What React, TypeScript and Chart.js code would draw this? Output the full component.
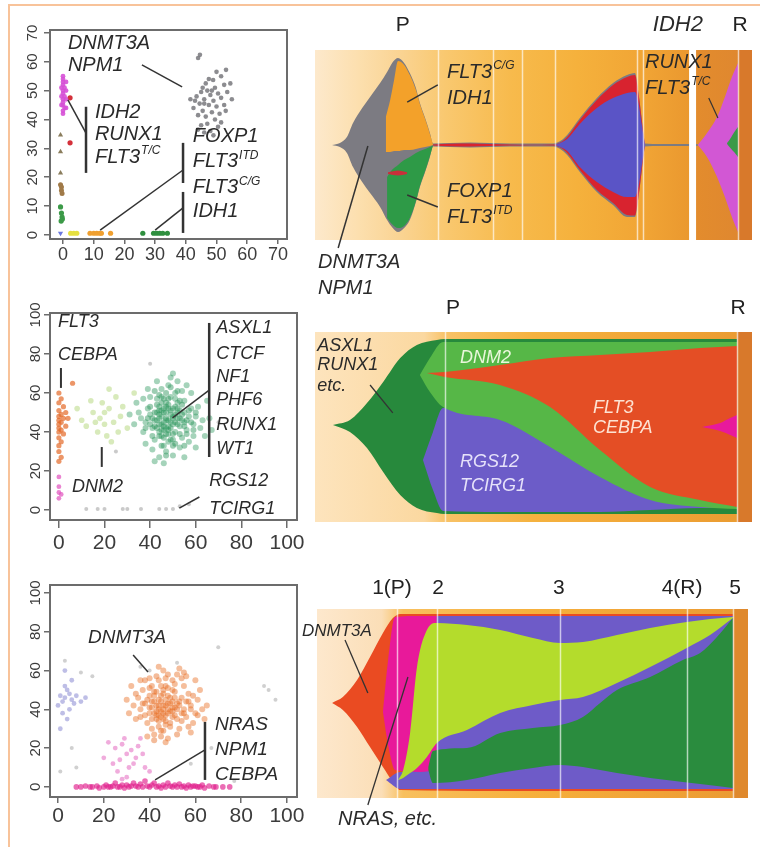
import React, { useEffect, useRef } from "react";
import { Chart, registerables } from "chart.js";
Chart.register(...registerables);

const FONT = "'Liberation Sans', Arial, Helvetica, sans-serif";

// ---------- scatter tick values ----------
const TICKS_70 = [0, 10, 20, 30, 40, 50, 60, 70];
const TICKS_100 = [0, 20, 40, 60, 80, 100];

// ---------- row 1 scatter ----------
const S1_GRAY = [[44.6,62.4],[44.0,61.3],[53.1,57.2],[48.9,53.7],[51.5,55.0],[46.5,52.5],[49.5,51.0],[52.5,52.0],[47.0,50.0],[45.0,49.5],[43.5,48.0],[50.5,49.0],[48.0,48.5],[53.5,49.5],[46.0,47.0],[49.0,46.5],[51.5,47.5],[44.5,45.5],[47.5,45.0],[50.0,44.5],[52.5,45.0],[42.5,44.0],[45.5,43.0],[48.5,42.5],[51.0,42.0],[46.5,41.0],[44.0,41.5],[49.5,40.0],[47.0,38.5],[45.0,38.0],[50.5,37.5],[48.0,36.0],[46.0,35.5],[43.0,46.5],[54.5,52.5],[55.0,47.0],[41.5,47.0],[53.0,43.0],[47.5,54.0],[50.0,56.5],[45.5,51.0],[48.5,50.0],[44.0,36.5],[51.5,39.0],[49.0,34.5],[46.0,45.5]];
const S1_MAGENTA = [[0,55],[0,54],[0,53],[0,52],[0.5,51],[0,50],[0,49],[0.5,48],[0,47],[0,46],[0,45],[0.5,44],[0,43],[0,42],[1,53],[1,50],[1,47],[-0.5,51],[-0.5,48],[1,44],[-0.5,45]];
const S1_RED = [[2.3,47.5],[2.3,31.9]];
const S1_OLIVE = [[-0.8,34.6],[-0.8,28.8],[-0.8,21.5]];
const S1_BROWN = [[-0.5,16.6],[-0.5,15.4],[-0.3,14.4],[-0.8,17.4]];
const S1_GREEN = [[-0.8,9.7],[-0.5,7.6],[-0.3,6.2],[-0.6,4.8],[-0.2,5.5]];
const S1_BLUE = [[-0.8,0.6]];
const S1_YELLOW = [[2.5,0.6],[3.5,0.6],[4.5,0.6]];
const S1_ORANGE = [[8.8,0.6],[10,0.6],[11,0.6],[12,0.6],[12.5,0.6],[15.5,0.6]];
const S1_DKGREEN = [[26,0.6],[29.5,0.6],[30.5,0.6],[31.5,0.6],[32.5,0.6],[34,0.6]];

// ---------- row 2 scatter ----------
const S2_GREEN = [[47,46],[45,48],[50,44],[43,50],[52,47],[48,52],[46,41],[51,40],[44,44],[49,49],[53,51],[42,46],[55,45],[47,55],[50,36],[45,38],[57,48],[40,49],[48,43],[52,55],[44,53],[56,41],[41,42],[49,58],[54,37],[46,33],[59,44],[38,45],[51,60],[43,57],[58,52],[47,30],[53,32],[39,52],[55,56],[45,62],[60,48],[36,47],[50,28],[42,36],[57,35],[48,64],[62,42],[40,58],[54,61],[44,27],[61,53],[37,40],[52,66],[46,24],[63,46],[35,50],[58,60],[41,31],[55,27],[49,68],[64,38],[39,62],[47,50],[50,47],[46,45],[48,39],[51,53],[45,51],[53,43],[44,47],[49,45],[47,42],[52,50],[46,52],[33,44],[66,47],[56,64],[38,34],[60,32],[43,66],[34,55],[65,56],[50,70],[42,25],[31,49],[67,41],[59,38],[37,57],[55,50],[48,35],[44,40],[51,57],[45,58],[54,46]];
const S2_GREEN_CORE = [[45,44],[47,47],[49,42],[43,46],[51,45],[46,50],[48,46],[50,48],[44,49],[52,44],[47,39],[45,41],[49,51],[53,47],[42,43],[48,54],[46,37],[50,39],[54,49],[44,51],[41,47],[51,49],[47,53],[43,42],[55,43],[49,36],[45,55],[52,52],[40,44],[48,41],[46,43],[50,52],[53,39],[44,38],[56,46],[42,50],[48,57],[51,34],[47,60],[39,47],[57,51],[45,33],[54,54],[43,54],[50,33],[58,45],[41,38],[46,57],[52,61],[38,42],[56,39],[49,63],[44,59],[53,56],[40,53],[60,50],[47,28],[55,33],[42,61],[59,41]];
const S2_LIGHT = [[18,47],[20,44],[15,50],[22,52],[17,40],[24,45],[12,43],[19,55],[27,48],[21,38],[14,56],[25,58],[30,42],[10,46],[23,35],[28,53],[16,45],[20,50],[33,60],[26,40],[8,52],[22,62]];
const S2_ORANGE = [[0,60],[1,57],[0,55],[2,53],[0,51],[1,49],[0,48],[2,47],[0,46],[1,45],[0,44],[3,43],[0,42],[1,41],[0,40],[2,39],[0,37],[1,35],[0,33],[0,30],[1,27],[0,25],[3,50],[6,65],[4,47]];
const S2_PINK = [[0,17],[0,12],[0,9],[1,8],[0,6]];
const S2_GRAY = [[12,0.5],[17,0.5],[20,0.5],[28,0.5],[30,0.5],[36,0.5],[44,0.5],[47,0.5],[50,0.5],[53,2],[57,3],[40,75],[70,45],[25,30]];

// ---------- row 3 scatter ----------
const S3_ORANGE = [[46,40],[44,42],[48,38],[42,44],[50,41],[45,36],[47,45],[43,39],[49,43],[51,37],[41,41],[53,42],[46,48],[44,34],[48,47],[52,35],[40,38],[55,40],[47,32],[43,49],[50,50],[38,43],[54,46],[45,29],[49,31],[41,52],[56,36],[36,40],[51,53],[44,55],[58,42],[39,33],[53,30],[47,56],[35,46],[57,48],[42,27],[52,58],[60,38],[37,50],[48,25],[55,52],[33,42],[46,60],[61,45],[40,56],[59,33],[44,45],[47,42],[45,39],[50,44],[43,37],[49,39],[46,35],[42,47],[51,46],[48,51],[54,38],[40,47],[52,43],[38,37],[57,44],[31,38],[63,40],[45,52],[34,35],[62,50],[41,30],[56,57],[30,45],[65,42],[36,55],[58,28],[44,62],[64,35],[39,26],[53,61],[32,52],[60,55],[47,23]];
const S3_ORANGE_CORE = [[44,40],[46,42],[48,40],[42,38],[50,39],[45,44],[47,37],[43,42],[49,46],[51,41],[41,44],[46,38],[48,43],[44,37],[52,40],[45,47],[47,34],[43,35],[50,36],[53,44],[40,41],[46,50],[49,33],[42,49],[55,38],[44,31],[51,49],[39,45],[54,34],[47,52],[41,35],[56,44],[45,26],[50,55],[37,43],[58,40],[43,57],[52,27],[36,36],[48,58],[59,47],[40,51],[54,56],[46,29],[34,48],[61,37],[38,55],[57,31],[42,24],[55,59]];
const S3_PURPLE = [[3,46],[5,48],[2,44],[6,45],[4,50],[1,47],[7,43],[3,52],[5,40],[2,38],[8,47],[0,42],[4,35],[10,44],[6,55],[1,30],[3,60],[12,46]];
const S3_PINK = [[25,20],[28,22],[30,17],[32,19],[27,14],[34,15],[29,25],[24,12],[31,10],[35,21],[26,8],[33,12],[37,17],[22,23],[30,5],[38,10],[40,8],[20,15],[36,25],[28,4]];
const S3_PINKLINE = [[8,0],[10,0],[12,0.5],[14,0],[15,0],[17,0.5],[18,-0.5],[20,0],[21,1],[22,0],[23,0],[24,0.5],[25,2],[26,0],[27,0],[28,1],[29,-0.5],[30,1],[31,0],[32,0.5],[33,2],[34,0.5],[35,0],[36,1.5],[37,0],[38,3],[39,0.5],[40,0],[41,1],[42,2],[43,0],[44,0.5],[45,-0.5],[46,1],[47,0],[48,2],[49,0.5],[50,0],[51,1],[52,0],[53,1.5],[54,0],[55,0.5],[56,-0.5],[57,1],[58,0],[59,0.5],[60,0.5],[61,0],[62,0],[63,1],[64,-0.5],[66,0.5],[68,0],[69,0],[72,0],[75,0]];
const S3_GRAY = [[3,65],[10,59],[8,10],[15,57],[40,60],[36,62],[52,64],[70,72],[77,3],[92,50],[95,45],[90,52],[6,20],[1,8],[58,12],[67,20]];

// ---------- fish plot 1 ----------
const F1_GRAY_X = [3.9,5.7,7.3,8.7,10.8,12.6,14.9,16.5,17.8,19.0,20.4,21.7,23.1,24.0,25.2,26.3,27.0,30.9,35.5,40.0,44.6,49.2,54.5,56.1,57.7,60.6,64.5,68.2,71.4,73.2,74.1,74.8,75.5,78.9,85.6,87.6];
const F1_GRAY_TOP = [50,51.1,54.2,61.6,69.5,75.3,82.6,88.4,93.7,95.8,93.2,87.9,80,72.1,64.2,56.3,50.8,51.1,51.3,51.1,50.8,50.8,50.8,52.1,55.3,64.2,74.7,82.6,86.8,87.9,76.3,63.2,50.8,50.5,50.5,50.5];
const F1_GRAY_BOT = [50,48.9,45.8,38.4,30.5,24.7,17.4,10.5,6.3,4.2,6.3,10.5,20,27.9,35.8,43.7,49.2,48.9,48.7,48.9,49.2,49.2,49.2,47.9,44.7,35.8,25.3,18.4,12.1,12.1,23.7,36.8,49.2,49.5,49.5,49.5];
const F1_ORANGE_X = [16.2,17.2,18.1,19.0,20.4,21.7,23.1,24.0,25.2,26.3,27.0];
const F1_ORANGE_TOP = [64.7,73.7,84.2,94.2,92.1,86.8,78.9,71.6,63.7,55.8,50.3];
const F1_ORANGE_BOT = [46.3,46.3,46.8,46.8,47.4,47.4,47.9,48.4,48.9,49.5,50.0];
const F1_GREEN_X = [16.5,17.6,19.0,20.4,21.7,23.1,24.0,25.2,26.3,27.0];
const F1_GREEN_TOP = [33.2,36.8,39.5,42.1,43.7,45.8,46.8,47.9,48.9,49.7];
const F1_GREEN_BOT = [11.6,8.4,6.3,7.4,11.6,20.5,28.4,36.3,44.2,49.7];
const F1_REDA_X = [16.7,19.0,21.1];
const F1_REDA_TOP = [35.6,36.6,35.6];
const F1_REDA_BOT = [34.8,34.0,34.8];
const F1_RED_X = [27.0,30.9,35.5,40.0,44.6,49.2,54.5,56.1,57.7,60.6,64.5,68.2,71.4,73.2,74.1,74.8,75.5];
const F1_RED_TOP = [50.3,50.7,50.8,50.5,50.3,50.1,50.2,51.3,54.2,63.2,73.7,81.6,85.8,86.8,75.8,62.6,50.3];
const F1_RED_BOT = [49.7,49.3,49.2,49.5,49.7,49.9,49.8,48.7,45.8,36.8,26.3,19.5,13.2,12.9,24.2,37.4,49.7];
const F1_BLUE_X = [54.9,57.7,60.6,64.5,68.2,71.4,73.2,74.1,74.8,75.5];
const F1_BLUE_TOP = [50,53.2,61.1,69.5,74.7,77.4,77.9,71.1,60.5,50];
const F1_BLUE_BOT = [50,46.8,38.4,30.5,25.3,22.6,22.6,28.9,39.5,50];
const F1_MAG_X = [87.6,89.7,92.0,93.8,95.4,96.8];
const F1_MAG_TOP = [50,56.3,64.7,75.3,85.8,93.2];
const F1_MAG_BOT = [50,43.7,33.2,22.6,12.1,4.2];
const F1_G2_X = [94.3,95.2,96.0,96.8];
const F1_G2_TOP = [51,54,57,59.5];
const F1_G2_BOT = [50.5,48,46,43.7];
const F1_LABEL_POS = [20.1, 97.3];
const F1_LABELS = ["P", "R"];
const F1_SAMPLE_LINES = [28.1, 40.7, 47.4, 54.9, 73.7, 75.1, 96.8];

// ---------- fish plot 2 ----------
const F2_DG_X = [4.1,8.0,11.9,15.6,19.5,23.3,27.9,29.7,65.2,96.6];
const F2_DG_TOP = [51.1,53.7,62.6,73.7,86.3,93.2,95.8,96.3,96.3,96.3];
const F2_DG_BOT = [51.1,47.4,38.9,26.3,14.2,7.4,4.7,4.2,4.2,4.2];
const F2_PU_X = [24.7,27.0,29.3,42.3,53.8,65.2,76.7,88.1,96.6];
const F2_PU_TOP = [32.6,47.4,60.0,57.9,43.2,27.4,14.2,10.0,8.9];
const F2_PU_BOT = [32.6,16.8,5.8,5.3,5.3,5.3,6.3,7.4,7.4];
const F2_LG_X = [24.0,26.3,29.3,42.3,53.8,65.2,76.7,88.1,96.6];
const F2_LG_TOP = [77.4,86.3,94.7,94.7,94.7,94.7,94.7,94.7,94.7];
const F2_LG_BOT = [77.4,68.4,60.5,53.7,39.5,23.7,11.6,7.9,6.8];
const F2_RED_X = [25.6,29.7,42.3,53.8,65.2,76.7,88.1,96.6];
const F2_RED_TOP = [78.4,78.9,82.6,86.3,87.9,89.5,91.6,92.6];
const F2_RED_BOT = [78.4,76.3,72.1,60.5,37.9,18.4,11.6,7.9];
const F2_MAG_X = [88.6,92.7,95.0,96.6];
const F2_MAG_TOP = [50,52.1,54.7,56.3];
const F2_MAG_BOT = [50,47.9,45.8,44.2];
const F2_LABEL_POS = [31.6, 96.8];
const F2_LABELS = ["P", "R"];
const F2_SAMPLE_LINES = [29.7, 96.6];

// ---------- fish plot 3 ----------
const F3_RED_X = [3.5,6.0,9.3,12.3,15.3,17.6,19.3,42.5,96.5];
const F3_RED_TOP = [50.3,53.4,62.4,74.6,87.3,95.2,97.4,97.4,97.4];
const F3_RED_BOT = [50.3,46.6,37.6,27.0,16.4,8.5,4.2,3.7,3.7];
const F3_PU_X = [16.0,19.3,23.9,27.8,42.5,96.5];
const F3_PU_TOP = [9.5,13.8,15.9,96.3,96.3,96.3];
const F3_PU_BOT = [9.5,4.8,4.8,4.8,4.8,4.8];
const F3_MAG_X = [15.3,16.5,18.1,23.9,27.8];
const F3_MAG_TOP = [45.5,73.0,95.8,96.3,96.3];
const F3_MAG_BOT = [45.5,28.0,14.8,13.8,14.8];
const F3_LIME_X = [18.8,20.0,21.6,23.2,25.5,27.8,34.8,42.5,50.1,56.4,61.7,69.6,77.3,85.8,91.2,96.5];
const F3_LIME_TOP = [9.5,14.8,34.4,69.3,88.9,92.6,91.5,88.9,84.7,82.0,82.5,86.2,89.9,93.1,94.7,95.8];
const F3_LIME_BOT = [9.5,10.6,13.2,15.9,21.7,29.1,36.0,45.0,49.2,51.9,53.4,60.8,69.3,79.4,86.2,95.2];
const F3_GR_X = [25.8,26.9,34.8,42.5,50.1,56.4,61.7,65.7,69.6,77.3,84.9,88.9,92.8,96.5];
const F3_GR_TOP = [16.4,24.9,26.5,34.4,37.0,38.6,42.9,50.3,57.1,64.0,73.0,76.7,85.2,95.2];
const F3_GR_BOT = [14.8,7.9,9.5,13.2,15.9,17.5,16.4,14.8,13.2,10.6,8.5,7.4,6.3,5.3];
const F3_LABEL_POS = [17.4, 28.1, 56.1, 84.7, 97.0];
const F3_LABELS = ["1(P)", "2", "3", "4(R)", "5"];
const F3_SAMPLE_LINES = [18.6, 27.8, 56.4, 85.8, 96.5];

// ---------- annotations ----------
const S1_TEXTS = [
  { t: "DNMT3A", x: 1.6, y: 66.2 }, { t: "NPM1", x: 1.6, y: 58.6 },
  { t: "IDH2", x: 10.4, y: 42.3 }, { t: "RUNX1", x: 10.4, y: 34.7 }, { t: "FLT3", sup: "T/C", x: 10.4, y: 27.0 },
  { t: "FOXP1", x: 42.3, y: 34.0 }, { t: "FLT3", sup: "ITD", x: 42.3, y: 25.3 },
  { t: "FLT3", sup: "C/G", x: 42.3, y: 16.3 }, { t: "IDH1", x: 42.3, y: 8.0 },
];
const S1_SEGS = [
  [25.7, 58.9, 38.8, 51.3, 1.5], [7.5, 44.4, 7.5, 21.5, 2.5], [7.5, 35.3, 1.6, 46.8, 1.5],
  [39.1, 31.9, 39.1, 18.0, 2.5], [39.1, 14.9, 39.1, 0.7, 2.5],
  [39.1, 22.5, 12.1, 1.7, 1.5], [39.1, 9.4, 30.0, 1.7, 1.5],
];
const S2_TEXTS = [
  { t: "FLT3", x: -0.4, y: 96.4 }, { t: "CEBPA", x: -0.4, y: 79.5 }, { t: "DNM2", x: 5.7, y: 11.8 },
  { t: "ASXL1", x: 69.0, y: 93.3 }, { t: "CTCF", x: 69.0, y: 80.0 }, { t: "NF1", x: 69.0, y: 68.2 },
  { t: "PHF6", x: 69.0, y: 56.4 }, { t: "RUNX1", x: 69.0, y: 43.6 }, { t: "WT1", x: 69.0, y: 31.3 },
  { t: "RGS12", x: 65.9, y: 14.9 }, { t: "TCIRG1", x: 65.9, y: 0.5 },
];
const S2_SEGS = [
  [0.9, 72.8, 0.9, 62.6, 2], [18.8, 32.3, 18.8, 22.1, 2], [65.9, 95.9, 65.9, 27.2, 2.5],
  [65.9, 61.5, 49.8, 47.2, 1.5], [61.6, 6.7, 52.8, 1.0, 1.5],
];
const S3_TEXTS = [
  { t: "DNMT3A", x: 13.1, y: 76.8 }, { t: "NRAS", x: 68.6, y: 32.0 },
  { t: "NPM1", x: 68.6, y: 19.1 }, { t: "CEBPA", x: 68.6, y: 6.2 },
];
const S3_SEGS = [[32.8, 68.0, 39.3, 59.3, 1.5], [64.2, 33.5, 64.2, 3.6, 2.5], [64.2, 19.1, 42.4, 3.6, 1.5]];
const F1_TEXTS = [
  { t: "FLT3", sup: "C/G", x: 30.2, y: 88.4 }, { t: "IDH1", x: 30.2, y: 74.7 },
  { t: "FOXP1", x: 30.2, y: 25.3 }, { t: "FLT3", sup: "ITD", x: 30.2, y: 12.1 },
  { t: "DNMT3A", x: 0.7, y: -11.6 }, { t: "NPM1", x: 0.7, y: -25.3 },
  { t: "RUNX1", x: 75.5, y: 93.2 }, { t: "FLT3", sup: "T/C", x: 75.5, y: 80 },
  { t: "IDH2", x: 77.3, y: 113.4, size: 22 },
];
const F1_SEGS = [[28.1, 81.6, 21.1, 72.6, 1.5], [28.1, 17.4, 21.1, 23.7, 1.5], [5.3, -4.2, 12.1, 49.5, 1.5], [90.1, 74.7, 92.2, 64.2, 1.2]];
const F2_TEXTS = [
  { t: "ASXL1", x: 0.5, y: 92.6 }, { t: "RUNX1", x: 0.5, y: 82.6 }, { t: "etc.", x: 0.5, y: 71.6 },
  { t: "DNM2", x: 33.2, y: 86.3, color: "#eaf7dc" },
  { t: "FLT3", x: 63.6, y: 60.0, color: "#fde3d3" }, { t: "CEBPA", x: 63.6, y: 49.5, color: "#fde3d3" },
  { t: "RGS12", x: 33.2, y: 31.6, color: "#e6e2fa" }, { t: "TCIRG1", x: 33.2, y: 18.9, color: "#e6e2fa" },
];
const F2_SEGS = [[12.6, 72.1, 17.8, 57.4, 1.3]];
const F3_TEXTS = [{ t: "DNMT3A", x: -3.5, y: 88.4, size: 17 }, { t: "NRAS, etc.", x: 4.9, y: -11.6, size: 20 }];
const F3_SEGS = [[6.5, 83.6, 11.8, 55.6, 1.3], [11.8, -3.7, 21.1, 64.0, 1.3]];

// ---------- plugins ----------
function annPlugin(texts: any[], segs: any[], size: number) {
  return {
    id: "ann",
    afterDraw(chart: any) {
      const { ctx } = chart;
      const xs = chart.scales.x, ys = chart.scales.y;
      ctx.save();
      ctx.strokeStyle = "#333";
      ctx.lineCap = "butt";
      segs.forEach((s: number[]) => {
        ctx.lineWidth = s[4];
        ctx.beginPath();
        ctx.moveTo(xs.getPixelForValue(s[0]), ys.getPixelForValue(s[1]));
        ctx.lineTo(xs.getPixelForValue(s[2]), ys.getPixelForValue(s[3]));
        ctx.stroke();
      });
      ctx.textAlign = "left";
      ctx.textBaseline = "middle";
      texts.forEach((a: any) => {
        const sz = a.size || size;
        const px = xs.getPixelForValue(a.x), py = ys.getPixelForValue(a.y);
        ctx.fillStyle = a.color || "#2a2a2a";
        ctx.font = `italic ${sz}px ${FONT}`;
        ctx.fillText(a.t, px, py);
        if (a.sup) {
          const w = ctx.measureText(a.t).width;
          ctx.font = `italic ${Math.round(sz * 0.6)}px ${FONT}`;
          ctx.fillText(a.sup, px + w + 1, py - sz * 0.32);
        }
      });
      ctx.restore();
    },
  };
}

function boxPlugin(yTicks: number[], labelX: number, size: number) {
  return {
    id: "rbox",
    afterDraw(chart: any) {
      const { ctx, chartArea: a } = chart;
      const ys = chart.scales.y;
      ctx.save();
      ctx.strokeStyle = "#6c6c6c";
      ctx.lineWidth = 2;
      ctx.strokeRect(a.left, a.top, a.right - a.left, a.bottom - a.top);
      ctx.fillStyle = "#3c3c3c";
      ctx.font = `${size}px ${FONT}`;
      ctx.textAlign = "center";
      ctx.textBaseline = "middle";
      yTicks.forEach((v) => {
        const py = ys.getPixelForValue(v);
        ctx.save();
        ctx.translate(labelX, py);
        ctx.rotate(-Math.PI / 2);
        ctx.fillText(String(v), 0, 0);
        ctx.restore();
      });
      ctx.restore();
    },
  };
}

function fishBgPlugin(stops: any[], stripFrom: number, stripColor: string, lines: number[], gaps: number[][]) {
  return {
    id: "fishbg",
    beforeDraw(chart: any) {
      const { ctx, chartArea: a } = chart;
      const xs = chart.scales.x;
      ctx.save();
      const g = ctx.createLinearGradient(a.left, 0, a.right, 0);
      stops.forEach((s: any) => g.addColorStop(s[0], s[1]));
      ctx.fillStyle = g;
      ctx.fillRect(a.left, a.top, a.right - a.left, a.bottom - a.top);
      const sx = xs.getPixelForValue(stripFrom);
      ctx.fillStyle = stripColor;
      ctx.fillRect(sx, a.top, a.right - sx, a.bottom - a.top);
      ctx.restore();
    },
    afterDatasetsDraw(chart: any) {
      const { ctx, chartArea: a } = chart;
      const xs = chart.scales.x;
      ctx.save();
      ctx.strokeStyle = "rgba(255,255,255,0.65)";
      ctx.lineWidth = 1.5;
      lines.forEach((v) => {
        const px = Math.round(xs.getPixelForValue(v)) + 0.5;
        ctx.beginPath();
        ctx.moveTo(px, a.top);
        ctx.lineTo(px, a.bottom);
        ctx.stroke();
      });
      ctx.fillStyle = "#ffffff";
      gaps.forEach((gp) => {
        const x0 = xs.getPixelForValue(gp[0]), x1 = xs.getPixelForValue(gp[1]);
        ctx.fillRect(x0, a.top - 1, x1 - x0, a.bottom - a.top + 2);
      });
      ctx.restore();
    },
  };
}

// ---------- config builders ----------
function pts(arr: number[][]) {
  return arr.map((p) => ({ x: p[0], y: p[1] }));
}
function sds(arr: number[][], color: string, r: number, style: any = "circle", rot = 0) {
  return { data: pts(arr), backgroundColor: color, borderColor: color, borderWidth: 0, pointRadius: r, pointStyle: style, rotation: rot };
}

function scatterConfig(o: any) {
  return {
    type: "scatter",
    data: { datasets: o.datasets },
    options: {
      responsive: false,
      animation: false,
      events: [],
      layout: { padding: o.pad },
      plugins: { legend: { display: false }, tooltip: { enabled: false } },
      scales: {
        x: {
          type: "linear", min: o.xr[0], max: o.xr[1],
          afterBuildTicks: (s: any) => { s.ticks = o.xt.map((v: number) => ({ value: v })); },
          afterFit: (s: any) => { s.height = 30; },
          grid: { display: true, drawOnChartArea: false, drawTicks: true, tickLength: o.xTl, color: "#6c6c6c", lineWidth: 1.5 },
          border: { display: false },
          ticks: { autoSkip: false, maxRotation: 0, minRotation: 0, padding: o.xPad, color: "#3c3c3c", font: { family: FONT, size: o.xFont }, callback: (v: any) => String(v) },
        },
        y: {
          type: "linear", min: o.yr[0], max: o.yr[1],
          afterBuildTicks: (s: any) => { s.ticks = o.yt.map((v: number) => ({ value: v })); },
          afterFit: (s: any) => { s.width = 30; },
          grid: { display: true, drawOnChartArea: false, drawTicks: true, tickLength: 6, color: "#6c6c6c", lineWidth: 1.5 },
          border: { display: false },
          ticks: { display: false },
        },
      },
    },
    plugins: [boxPlugin(o.yt, o.yLabelX, 15), annPlugin(o.texts, o.segs, o.annSize)],
  };
}

function fishConfig(o: any) {
  const datasets: any[] = [];
  o.layers.forEach((L: any, i: number) => {
    const common = { pointRadius: 0, borderWidth: 0, borderColor: "transparent", cubicInterpolationMode: "monotone", order: 100 - i };
    datasets.push({ ...common, data: L.x.map((x: number, k: number) => ({ x, y: L.bot[k] })), fill: false });
    datasets.push({ ...common, data: L.x.map((x: number, k: number) => ({ x, y: L.top[k] })), fill: "-1", backgroundColor: L.color });
  });
  return {
    type: "line",
    data: { datasets },
    options: {
      responsive: false,
      animation: false,
      events: [],
      layout: { padding: o.pad },
      plugins: { legend: { display: false }, tooltip: { enabled: false } },
      scales: {
        x: {
          type: "linear", position: "top", min: 0, max: 100,
          afterBuildTicks: (s: any) => { s.ticks = o.labelPos.map((v: number) => ({ value: v })); },
          afterFit: (s: any) => { s.height = o.axisH; },
          grid: { display: false, drawTicks: false },
          border: { display: false },
          ticks: { autoSkip: false, maxRotation: 0, minRotation: 0, padding: o.labelPad, color: "#222", font: { family: FONT, size: 21 }, callback: (_v: any, i: number) => o.labels[i] },
        },
        y: { type: "linear", display: false, min: 0, max: 100 },
      },
    },
    plugins: [fishBgPlugin(o.bg, o.stripFrom, o.stripColor, o.lines, o.gaps), annPlugin(o.texts, o.segs, o.annSize)],
  };
}

function ChartBox(props: { left: number; top: number; width: number; height: number; make: () => any }) {
  const ref = useRef<HTMLCanvasElement | null>(null);
  useEffect(() => {
    const chart = new Chart(ref.current as HTMLCanvasElement, props.make());
    return () => chart.destroy();
  }, []);
  return (
    <canvas
      ref={ref}
      width={props.width}
      height={props.height}
      style={{ position: "absolute", left: props.left, top: props.top, width: props.width, height: props.height }}
    />
  );
}

const makeS1 = () =>
  scatterConfig({
    datasets: [
      sds(S1_GRAY, "rgba(120,120,125,0.85)", 2.3),
      sds(S1_MAGENTA, "rgba(214,80,214,0.9)", 2.4),
      sds(S1_RED, "#d4303a", 2.6),
      sds(S1_OLIVE, "#8a7d5c", 3, "triangle"),
      sds(S1_BROWN, "#a07a48", 2.5),
      sds(S1_GREEN, "#3c9a48", 2.6),
      sds(S1_BLUE, "#6a78e0", 3, "triangle", 180),
      sds(S1_YELLOW, "#e6e040", 2.6),
      sds(S1_ORANGE, "#f0a030", 2.6),
      sds(S1_DKGREEN, "#2f8f3f", 2.6),
    ],
    xr: [-4.23, 72.96], yr: [-1.4, 71], xt: TICKS_70, yt: TICKS_70,
    pad: { left: 20, top: 30, right: 23, bottom: 11 },
    xFont: 18, xTl: 5, xPad: 0, yLabelX: 33,
    texts: S1_TEXTS, segs: S1_SEGS, annSize: 20,
  });

const makeS2 = () =>
  scatterConfig({
    datasets: [
      sds(S2_GRAY, "rgba(150,150,150,0.5)", 2),
      sds(S2_LIGHT, "rgba(195,222,150,0.65)", 2.8),
      sds(S2_GREEN, "rgba(40,150,90,0.42)", 3),
      sds(S2_GREEN_CORE, "rgba(35,145,85,0.45)", 3),
      sds(S2_ORANGE, "rgba(228,105,40,0.7)", 2.6),
      sds(S2_PINK, "rgba(225,80,190,0.7)", 2.4),
    ],
    xr: [-3.9, 104.4], yr: [-5.1, 101], xt: TICKS_100, yt: TICKS_100,
    pad: { left: 20, top: 23, right: 13, bottom: 10 },
    xFont: 21, xTl: 8, xPad: 3, yLabelX: 36,
    texts: S2_TEXTS, segs: S2_SEGS, annSize: 18,
  });

const makeS3 = () =>
  scatterConfig({
    datasets: [
      sds(S3_GRAY, "rgba(150,150,150,0.45)", 2),
      sds(S3_PURPLE, "rgba(110,110,200,0.45)", 2.4),
      sds(S3_PINK, "rgba(225,90,185,0.5)", 2.4),
      sds(S3_ORANGE, "rgba(232,110,35,0.45)", 3),
      sds(S3_ORANGE_CORE, "rgba(228,105,30,0.45)", 3),
      sds(S3_PINKLINE, "rgba(225,30,140,0.65)", 2.8),
    ],
    xr: [-3.5, 104.4], yr: [-5.2, 104.1], xt: TICKS_100, yt: TICKS_100,
    pad: { left: 20, top: 25, right: 13, bottom: 20 },
    xFont: 21, xTl: 6, xPad: 1, yLabelX: 36,
    texts: S3_TEXTS, segs: S3_SEGS, annSize: 19,
  });

const makeF1 = () =>
  fishConfig({
    layers: [
      { x: F1_GRAY_X, top: F1_GRAY_TOP, bot: F1_GRAY_BOT, color: "#7c7b82" },
      { x: F1_ORANGE_X, top: F1_ORANGE_TOP, bot: F1_ORANGE_BOT, color: "#f3a12a" },
      { x: F1_GREEN_X, top: F1_GREEN_TOP, bot: F1_GREEN_BOT, color: "#2e9a47" },
      { x: F1_REDA_X, top: F1_REDA_TOP, bot: F1_REDA_BOT, color: "#c8303a" },
      { x: F1_RED_X, top: F1_RED_TOP, bot: F1_RED_BOT, color: "#d8232f" },
      { x: F1_BLUE_X, top: F1_BLUE_TOP, bot: F1_BLUE_BOT, color: "#5a54c6" },
      { x: F1_MAG_X, top: F1_MAG_TOP, bot: F1_MAG_BOT, color: "#d257d4" },
      { x: F1_G2_X, top: F1_G2_TOP, bot: F1_G2_BOT, color: "#3a9a48" },
    ],
    bg: [[0, "#fde9cc"], [0.1, "#fcdfae"], [0.2, "#fad391"], [0.3, "#f9c86f"], [0.45, "#f7ba4c"], [0.6, "#f5b13c"], [0.75, "#f1a535"], [0.86, "#ea982f"], [0.87, "#e38c2d"], [1, "#de8630"]],
    stripFrom: 96.8, stripColor: "#d8792b",
    lines: F1_SAMPLE_LINES, gaps: [[85.6, 87.2]],
    labelPos: F1_LABEL_POS, labels: F1_LABELS, axisH: 50, labelPad: 12,
    pad: { left: 15, right: 8, top: 0, bottom: 60 },
    texts: F1_TEXTS, segs: F1_SEGS, annSize: 20,
  });

const makeF2 = () =>
  fishConfig({
    layers: [
      { x: F2_DG_X, top: F2_DG_TOP, bot: F2_DG_BOT, color: "#27893c" },
      { x: F2_PU_X, top: F2_PU_TOP, bot: F2_PU_BOT, color: "#6c5cc8" },
      { x: F2_LG_X, top: F2_LG_TOP, bot: F2_LG_BOT, color: "#56b747" },
      { x: F2_RED_X, top: F2_RED_TOP, bot: F2_RED_BOT, color: "#e44e25" },
      { x: F2_MAG_X, top: F2_MAG_TOP, bot: F2_MAG_BOT, color: "#e8199c" },
    ],
    bg: [[0, "#fde4bd"], [0.25, "#fbd8a0"], [0.3, "#f8c266"], [0.5, "#f5b23f"], [0.8, "#f0a436"], [1, "#e99a31"]],
    stripFrom: 96.6, stripColor: "#d8792b",
    lines: F2_SAMPLE_LINES, gaps: [],
    labelPos: F2_LABEL_POS, labels: F2_LABELS, axisH: 42, labelPad: 11,
    pad: { left: 15, right: 8, top: 0, bottom: 28 },
    texts: F2_TEXTS, segs: F2_SEGS, annSize: 18,
  });

const makeF3 = () =>
  fishConfig({
    layers: [
      { x: F3_RED_X, top: F3_RED_TOP, bot: F3_RED_BOT, color: "#ea4b22" },
      { x: F3_PU_X, top: F3_PU_TOP, bot: F3_PU_BOT, color: "#6e5bc8" },
      { x: F3_MAG_X, top: F3_MAG_TOP, bot: F3_MAG_BOT, color: "#e8199a" },
      { x: F3_LIME_X, top: F3_LIME_TOP, bot: F3_LIME_BOT, color: "#b4dc2c" },
      { x: F3_GR_X, top: F3_GR_TOP, bot: F3_GR_BOT, color: "#2a8c3e" },
    ],
    bg: [[0, "#fde8cd"], [0.15, "#fbdeb7"], [0.2, "#f8c05e"], [0.5, "#f6b03c"], [0.8, "#f0a236"], [1, "#e99a33"]],
    stripFrom: 96.5, stripColor: "#df892d",
    lines: F3_SAMPLE_LINES, gaps: [],
    labelPos: F3_LABEL_POS, labels: F3_LABELS, axisH: 49, labelPad: 8,
    pad: { left: 17, right: 12, top: 0, bottom: 49 },
    texts: F3_TEXTS, segs: F3_SEGS, annSize: 19,
  });

export default function App() {
  return (
    <div style={{ position: "fixed", left: 0, top: 0, width: 760, height: 847, background: "#ffffff", overflow: "hidden" }}>
      <div style={{ position: "absolute", left: 8, top: 4, width: 760, height: 860, borderTop: "2px solid #f8c39a", borderLeft: "2px solid #f8c39a", boxSizing: "border-box" }} />
      <ChartBox left={0} top={0} width={310} height={280} make={makeS1} />
      <ChartBox left={0} top={290} width={310} height={270} make={makeS2} />
      <ChartBox left={0} top={560} width={310} height={287} make={makeS3} />
      <ChartBox left={300} top={0} width={460} height={300} make={makeF1} />
      <ChartBox left={300} top={290} width={460} height={260} make={makeF2} />
      <ChartBox left={300} top={560} width={460} height={287} make={makeF3} />
    </div>
  );
}
